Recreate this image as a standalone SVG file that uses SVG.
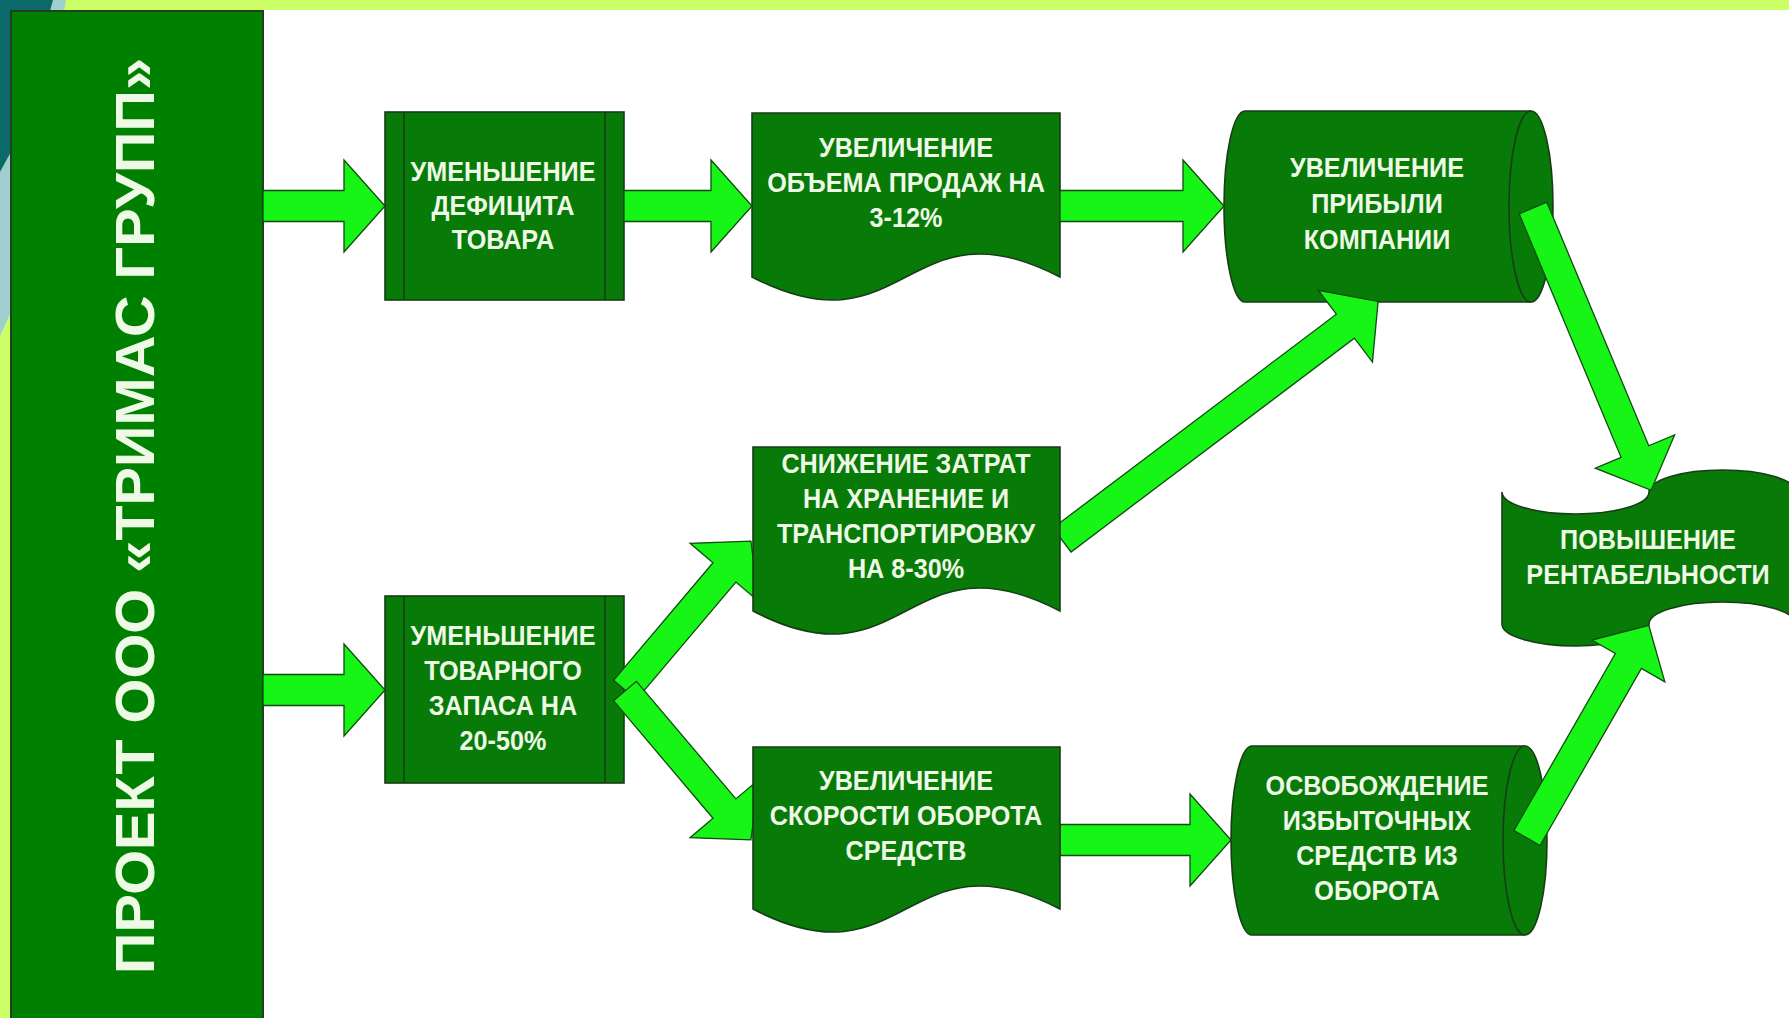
<svg xmlns="http://www.w3.org/2000/svg" width="1789" height="1018" viewBox="0 0 1789 1018">
<defs>
<style>
.node{fill:#087a08;stroke:#173d17;stroke-width:1.6}
.line{fill:none;stroke:#173d17;stroke-width:1.6}
.arrow{fill:#16f516;stroke:#104a10;stroke-width:1.3;stroke-linejoin:miter}
.t{font-family:"Liberation Sans",Arial,sans-serif;font-weight:bold;font-size:28px;fill:#eef9e6;text-anchor:middle}
.title{font-family:"Liberation Sans",Arial,sans-serif;font-weight:bold;font-size:56px;fill:#eef9e6;text-anchor:middle}
</style>
</defs>
<rect x="0" y="0" width="1789" height="1018" fill="#ffffff"/>
<g id="background">
<rect x="0" y="0" width="1789" height="10" fill="#ccff66"/>
<rect x="0" y="0" width="12" height="1018" fill="#ccff66"/>
<polygon points="53,0 66,0 12,310 0,336 0,172 12,150" fill="#9fcfcf"/>
<polygon points="0,0 53,0 12,150 0,172" fill="#0b6969"/>
</g>
<g id="project">
<rect x="11" y="11" width="252" height="1020" fill="#008000" stroke="#1f3f1f" stroke-width="2"/>
<text class="title" transform="translate(154,516) rotate(-90)" textLength="916" lengthAdjust="spacingAndGlyphs">ПРОЕКТ ООО «ТРИМАС ГРУПП»</text>
</g>
<g id="deficit">
<rect class="node" x="385" y="112" width="239" height="188"/>
<line class="line" x1="404" y1="112" x2="404" y2="300"/>
<line class="line" x1="605" y1="112" x2="605" y2="300"/>
<text class="t" transform="translate(503,0) scale(0.9,1)"><tspan x="0" y="181">УМЕНЬШЕНИЕ</tspan><tspan x="0" y="215">ДЕФИЦИТА</tspan><tspan x="0" y="249">ТОВАРА</tspan></text>
</g>
<g id="stock">
<rect class="node" x="385" y="596" width="239" height="187"/>
<line class="line" x1="404" y1="596" x2="404" y2="783"/>
<line class="line" x1="605" y1="596" x2="605" y2="783"/>
<text class="t" transform="translate(503,0) scale(0.9,1)"><tspan x="0" y="645">УМЕНЬШЕНИЕ</tspan><tspan x="0" y="680">ТОВАРНОГО</tspan><tspan x="0" y="715">ЗАПАСА НА</tspan><tspan x="0" y="750">20-50%</tspan></text>
</g>
<g id="sales">
<path class="node" d="M752,113 L1060,113 L1060,277 C906,197 906,357 752,277 Z"/>
<text class="t" transform="translate(906,0) scale(0.9,1)"><tspan x="0" y="157">УВЕЛИЧЕНИЕ</tspan><tspan x="0" y="192">ОБЪЕМА ПРОДАЖ НА</tspan><tspan x="0" y="227">3-12%</tspan></text>
</g>
<g id="profit">
<path class="node" d="M1245,111 L1531,111 A22,95.5 0 0 1 1531,302 L1245,302 A21,95.5 0 0 1 1245,111 Z"/>
<path class="line" d="M1531,111 A22,95.5 0 0 0 1531,302"/>
<text class="t" transform="translate(1377,0) scale(0.9,1)"><tspan x="0" y="177">УВЕЛИЧЕНИЕ</tspan><tspan x="0" y="213">ПРИБЫЛИ</tspan><tspan x="0" y="249">КОМПАНИИ</tspan></text>
</g>
<g id="release">
<path class="node" d="M1252,746 L1525,746 A22,94.5 0 0 1 1525,935 L1252,935 A21,94.5 0 0 1 1252,746 Z"/>
<path class="line" d="M1525,746 A22,94.5 0 0 0 1525,935"/>
<text class="t" transform="translate(1377,0) scale(0.9,1)"><tspan x="0" y="795">ОСВОБОЖДЕНИЕ</tspan><tspan x="0" y="830">ИЗБЫТОЧНЫХ</tspan><tspan x="0" y="865">СРЕДСТВ ИЗ</tspan><tspan x="0" y="900">ОБОРОТА</tspan></text>
</g>
<g id="profitability">
<path class="node" d="M1502,492 A73.5,22 0 0 0 1649,492 A73.5,22 0 0 1 1796,492 L1796,624 A73.5,22 0 0 0 1649,624 A73.5,22 0 0 1 1502,624 Z"/>
<text class="t" transform="translate(1648,0) scale(0.9,1)"><tspan x="0" y="549">ПОВЫШЕНИЕ</tspan><tspan x="0" y="584">РЕНТАБЕЛЬНОСТИ</tspan></text>
</g>
<g id="connectors">
<path class="arrow" transform="translate(263,206)" d="M0,-15.5 H81 V-46 L122,0 L81,46 V15.5 H0 Z"/>
<path class="arrow" transform="translate(624,206)" d="M0,-15.5 H87 V-46 L128,0 L87,46 V15.5 H0 Z"/>
<path class="arrow" transform="translate(1060,206)" d="M0,-15.5 H123 V-46 L164,0 L123,46 V15.5 H0 Z"/>
<path class="arrow" transform="translate(263,690)" d="M0,-15.5 H81 V-46 L122,0 L81,46 V15.5 H0 Z"/>
<path class="arrow" transform="translate(625,690) rotate(-49.78)" d="M0,-15 H154 V-45 L195,0 L154,45 V15 H0 Z"/>
<path class="arrow" transform="translate(625,691) rotate(49.78)" d="M0,-15 H154 V-45 L195,0 L154,45 V15 H0 Z"/>
<path class="arrow" transform="translate(1060,840)" d="M0,-15.5 H130 V-46 L171,0 L130,46 V15.5 H0 Z"/>
<path class="arrow" transform="translate(1062,540) rotate(-37.04)" d="M0,-15 H355 V-45 L396,0 L355,45 V15 H0 Z"/>
<path class="arrow" transform="translate(1533,208) rotate(67.29)" d="M0,-15 H264 V-43 L306,0 L264,43 V15 H0 Z"/>
<path class="arrow" transform="translate(1527,838) rotate(-60.2)" d="M0,-15 H204 V-42 L245,0 L204,42 V15 H0 Z"/>
</g>
<g id="costs">
<path class="node" d="M753,447 L1060,447 L1060,611 C906,531 906,691 753,611 Z"/>
<text class="t" transform="translate(906,0) scale(0.9,1)"><tspan x="0" y="473">СНИЖЕНИЕ ЗАТРАТ</tspan><tspan x="0" y="508">НА ХРАНЕНИЕ И</tspan><tspan x="0" y="543">ТРАНСПОРТИРОВКУ</tspan><tspan x="0" y="578">НА 8-30%</tspan></text>
</g>
<g id="turnover">
<path class="node" d="M753,747 L1060,747 L1060,909 C906,829 906,989 753,909 Z"/>
<text class="t" transform="translate(906,0) scale(0.9,1)"><tspan x="0" y="790">УВЕЛИЧЕНИЕ</tspan><tspan x="0" y="825">СКОРОСТИ ОБОРОТА</tspan><tspan x="0" y="860">СРЕДСТВ</tspan></text>
</g>
</svg>
